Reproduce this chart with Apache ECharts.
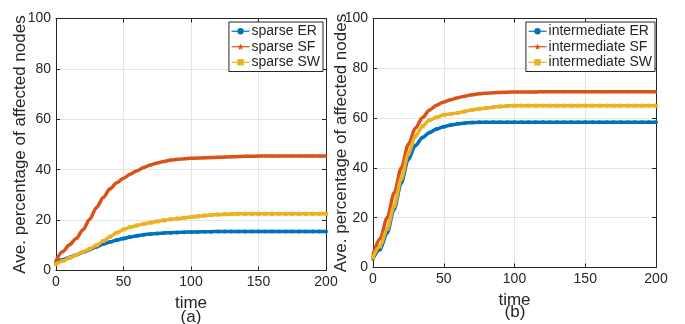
<!DOCTYPE html>
<html><head><meta charset="utf-8">
<script src="https://cdn.jsdelivr.net/npm/echarts@6/dist/echarts.min.js"></script>
<style>html,body{margin:0;padding:0;background:#fff}#c{width:685px;height:324px}</style>
</head><body><div id="c"></div>
<script>
var times = [0,5,10,15,20,25,30,35,40,45,50,55,60,65,70,75,80,85,90,95,100,105,110,115,120,125,130,135,140,145,150,155,160,165,170,175,180,185,190,195,200];
var yTicks = [0,20,40,60,80,100];
var xTicks = [0,50,100,150,200];
var sparseER = [3.4,4.3,5.2,6.2,7.2,8.3,9.4,10.5,11.3,12.1,12.7,13.3,13.8,14.2,14.5,14.7,14.9,15.0,15.1,15.2,15.3,15.3,15.4,15.4,15.5,15.5,15.5,15.5,15.5,15.5,15.5,15.5,15.5,15.5,15.5,15.5,15.5,15.5,15.5,15.5,15.5];
var sparseSF = [3.8,7.5,10.2,12.7,16.2,20.3,25.0,29.0,32.4,34.8,36.6,38.2,39.6,40.9,41.9,42.7,43.3,43.8,44.1,44.3,44.5,44.6,44.7,44.8,44.9,45.0,45.1,45.2,45.3,45.3,45.4,45.4,45.4,45.4,45.4,45.4,45.4,45.4,45.4,45.4,45.4];
var sparseSW = [2.5,3.8,5.0,6.2,7.4,8.6,10.0,11.7,13.4,15.0,16.3,17.2,17.9,18.5,19.0,19.5,19.9,20.3,20.6,20.9,21.2,21.5,21.8,22.0,22.2,22.3,22.4,22.5,22.5,22.5,22.5,22.5,22.5,22.5,22.5,22.5,22.5,22.5,22.5,22.5,22.5];
var interER = [3.5,7.2,14.0,23.5,34.0,43.5,49.0,52.2,54.2,55.6,56.5,57.2,57.7,58.0,58.2,58.3,58.3,58.3,58.3,58.3,58.3,58.3,58.3,58.3,58.3,58.3,58.3,58.3,58.3,58.3,58.3,58.3,58.3,58.3,58.3,58.3,58.3,58.3,58.3,58.3,58.3];
var interSF = [5.0,11.5,20.0,30.0,40.0,49.5,56.0,60.2,63.3,65.2,66.5,67.4,68.2,68.8,69.4,69.8,70.0,70.2,70.3,70.4,70.5,70.5,70.5,70.5,70.6,70.6,70.6,70.6,70.6,70.6,70.6,70.6,70.6,70.6,70.6,70.6,70.6,70.6,70.6,70.6,70.6];
var interSW = [4.0,8.5,15.5,24.8,35.7,45.7,52.7,56.7,59.2,60.3,61.3,61.7,62.1,62.7,63.3,63.7,64.0,64.4,64.7,64.9,65.0,65.0,65.0,65.0,65.0,65.0,65.0,65.0,65.0,65.0,65.0,65.0,65.0,65.0,65.0,65.0,65.0,65.0,65.0,65.0,65.0];
var namesA = ['sparse ER','sparse SF','sparse SW'];
var namesB = ['intermediate ER','intermediate SF','intermediate SW'];
var yName = 'Ave. percentage of affected nodes';
var xName = 'time';
var panelLabels = ['(a)','(b)'];
var colors = ['#0072BD','#D95319','#EDB120'];
var symbols = ['circle','path://M0,-5L1.2,-1.6L5,-1.5L2,1L3,5L0,2.6L-3,5L-2,1L-5,-1.5L-1.2,-1.6Z','rect'];

function pairs(v){ return times.map(function(t,i){ return [t, v[i]]; }); }
var FONT = 'Liberation Sans';
var TXT = '#262626';
var GRIDC = '#e4e4e4';

function mkAxes(gi, yGap, xGap){
  var x = {type:'value', gridIndex:gi, min:xTicks[0], max:xTicks[xTicks.length-1], interval:50,
    name:xName, nameLocation:'middle', nameGap:xGap, nameMoveOverlap:false,
    nameTextStyle:{fontFamily:FONT,fontSize:17,color:TXT},
    axisLine:{show:true,onZero:false,lineStyle:{color:TXT,width:1}},
    axisTick:{show:true,inside:true,length:4,lineStyle:{color:TXT}},
    axisLabel:{fontFamily:FONT,fontSize:14,color:TXT,margin:5},
    splitLine:{show:true,lineStyle:{color:GRIDC,width:1}}};
  var xt = {type:'value', gridIndex:gi, position:'top', min:0, max:200, interval:50,
    axisLine:{show:true,onZero:false,lineStyle:{color:TXT,width:1}},
    axisTick:{show:true,inside:true,length:4,lineStyle:{color:TXT}},
    axisLabel:{show:false}, splitLine:{show:false}};
  var y = {type:'value', gridIndex:gi, min:yTicks[0], max:yTicks[yTicks.length-1], interval:20,
    name:yName, nameLocation:'middle', nameGap:yGap, nameRotate:90, nameMoveOverlap:false,
    nameTextStyle:{fontFamily:FONT,fontSize:17,color:TXT},
    axisLine:{show:true,onZero:false,lineStyle:{color:TXT,width:1}},
    axisTick:{show:true,inside:true,length:4,lineStyle:{color:TXT}},
    axisLabel:{fontFamily:FONT,fontSize:14,color:TXT,margin:5},
    splitLine:{show:true,lineStyle:{color:GRIDC,width:1}}};
  var yr = {type:'value', gridIndex:gi, position:'right', min:0, max:100, interval:20,
    axisLine:{show:true,onZero:false,lineStyle:{color:TXT,width:1}},
    axisTick:{show:true,inside:true,length:4,lineStyle:{color:TXT}},
    axisLabel:{show:false}, splitLine:{show:false}};
  return {x:[x,xt], y:[y,yr]};
}
var a0 = mkAxes(0, 27, 24), a1 = mkAxes(1, 23, 24);

function mkSeries(names, datas, xi, yi){
  return names.map(function(n,i){
    return {type:'line', name:n, xAxisIndex:xi, yAxisIndex:yi, data:pairs(datas[i]),
      smooth:0.3, smoothMonotone:'x', showSymbol:true, symbol:symbols[i], symbolSize:4,
      lineStyle:{color:colors[i], width:3.5}, itemStyle:{color:colors[i]},
      emphasis:{disabled:true}, animation:false, z:3+i};
  });
}

function mkLegend(data, right){
  return {data:data, right:right, top:22, orient:'vertical', backgroundColor:'#fff',
    borderColor:'#262626', borderWidth:1, borderRadius:0,
    padding:[2,3,2,2], itemGap:1, itemWidth:18, itemHeight:8,
    lineStyle:{width:1.2},
    textStyle:{fontFamily:FONT,fontSize:14,color:TXT,lineHeight:14.5,padding:[0,0,0,-3]}};
}

var option = {
  animation:false,
  grid:[{left:56, top:18.5, width:270, height:252},{left:373, top:18.5, width:283, height:249}],
  xAxis:[a0.x[0],a0.x[1],a1.x[0],a1.x[1]].map(function(a,i){ a.gridIndex = i<2?0:1; return a; }),
  yAxis:[a0.y[0],a0.y[1],a1.y[0],a1.y[1]].map(function(a,i){ a.gridIndex = i<2?0:1; return a; }),
  legend:[ mkLegend(namesA, 362), mkLegend(namesB, 30) ],
  series: mkSeries(namesA,[sparseER,sparseSF,sparseSW],0,0).concat(mkSeries(namesB,[interER,interSF,interSW],2,2)),
  graphic:[
    {type:'text', style:{x:191, y:309, text:panelLabels[0], font:'17px "Liberation Sans"', fill:TXT, textAlign:'center'}},
    {type:'text', style:{x:515, y:304, text:panelLabels[1], font:'17px "Liberation Sans"', fill:TXT, textAlign:'center'}}
  ]
};
var chart = echarts.init(document.getElementById('c'), null, {renderer:'canvas'});
chart.setOption(option);
</script></body></html>
